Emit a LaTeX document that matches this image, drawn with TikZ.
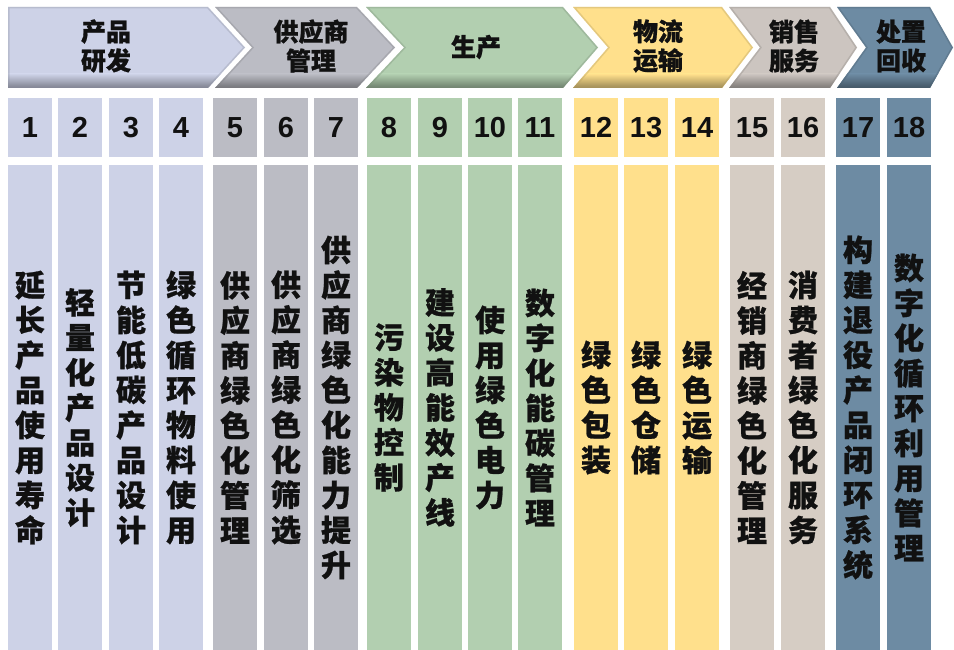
\documentclass[tikz,border=0pt]{standalone}
\usepackage{fontspec}
\setmainfont{Liberation Sans}
\newfontfamily\cjk[BoldFeatures={FakeBold=0.8}]{Noto Sans CJK SC}
\definecolor{lav}{HTML}{CDD2E7}
\definecolor{gry}{HTML}{BBBCC4}
\definecolor{grn}{HTML}{B2CFB0}
\definecolor{ylw}{HTML}{FFE08C}
\definecolor{bge}{HTML}{D6CDC4}
\definecolor{bgechev}{HTML}{CCC5C0}
\definecolor{blu}{HTML}{6D8BA3}
\definecolor{ink}{HTML}{111111}
\newcommand\drawchev[2]{%
  \begin{scope}
    \clip #2;
    \fill[#1] (0,0) rectangle (954,100);
    \shade[top color=#1, bottom color=#1!55!black] (0,74) rectangle (954,90);
    \draw[#1!70!black, line width=3pt, opacity=0.35] #2;
  \end{scope}}
\begin{document}
\begin{tikzpicture}[x=1pt,y=-1pt,
  colbox/.style={inner sep=0pt, minimum width=44pt, minimum height=485pt, align=center,
    font=\cjk\bfseries\fontsize{30}{35}\selectfont, text=ink},
  numbox/.style={inner sep=0pt, minimum width=44pt, minimum height=59pt,
    font=\bfseries\fontsize{29}{30}\selectfont, text=ink},
  headtext/.style={align=center, inner sep=0pt,
    font=\cjk\bfseries\fontsize{25}{29}\selectfont, text=ink}]
\useasboundingbox (0,0) rectangle (954,650);
\fill[white] (0,0) rectangle (954,650);

% chevrons
\drawchev{lav}{(8,7) -- (208,7) -- (245,47.5) -- (208,88) -- (8,88) -- cycle}
\drawchev{gry}{(215,7) -- (357,7) -- (395,47.5) -- (357,88) -- (215,88) -- (252,47.5) -- cycle}
\drawchev{grn}{(366,7) -- (563,7) -- (598,47.5) -- (563,88) -- (366,88) -- (404,47.5) -- cycle}
\drawchev{ylw}{(573,7) -- (722,7) -- (753,47.5) -- (722,88) -- (573,88) -- (608,47.5) -- cycle}
\drawchev{bgechev}{(729,7) -- (830,7) -- (857,47.5) -- (830,88) -- (729,88) -- (760,47.5) -- cycle}
\drawchev{blu}{(837,7) -- (930,7) -- (953,47.5) -- (930,88) -- (837,88) -- (866,47.5) -- cycle}

\node[headtext] (h1) at (106,46) {产品\\研发};
\node[headtext] (h2) at (311,46) {供应商\\管理};
\node[headtext] (h3) at (476,47) {生产};
\node[headtext] (h4) at (658,46) {物流\\运输};
\node[headtext] (h5) at (794,46) {销售\\服务};
\node[headtext] (h6) at (901,46) {处置\\回收};

% columns
\foreach \i/\x/\c/\t in {
  1/8/lav/{延\\长\\产\\品\\使\\用\\寿\\命},
  2/58/lav/{轻\\量\\化\\产\\品\\设\\计},
  3/109/lav/{节\\能\\低\\碳\\产\\品\\设\\计},
  4/159/lav/{绿\\色\\循\\环\\物\\料\\使\\用},
  5/213/gry/{供\\应\\商\\绿\\色\\化\\管\\理},
  6/264/gry/{供\\应\\商\\绿\\色\\化\\筛\\选},
  7/314/gry/{供\\应\\商\\绿\\色\\化\\能\\力\\提\\升},
  8/367/grn/{污\\染\\物\\控\\制},
  9/418/grn/{建\\设\\高\\能\\效\\产\\线},
  10/468/grn/{使\\用\\绿\\色\\电\\力},
  11/518/grn/{数\\字\\化\\能\\碳\\管\\理},
  12/574/ylw/{绿\\色\\包\\装},
  13/624/ylw/{绿\\色\\仓\\储},
  14/675/ylw/{绿\\色\\运\\输},
  15/730/bge/{经\\销\\商\\绿\\色\\化\\管\\理},
  16/781/bge/{消\\费\\者\\绿\\色\\化\\服\\务},
  17/836/blu/{构\\建\\退\\役\\产\\品\\闭\\环\\系\\统},
  18/887/blu/{数\\字\\化\\循\\环\\利\\用\\管\\理}}
{
  \node[numbox, fill=\c] (n\i) at (\x+22,127.5) {\i};
  \node[colbox, fill=\c] (t\i) at (\x+22,407.5) {\t};
}
\end{tikzpicture}
\end{document}
